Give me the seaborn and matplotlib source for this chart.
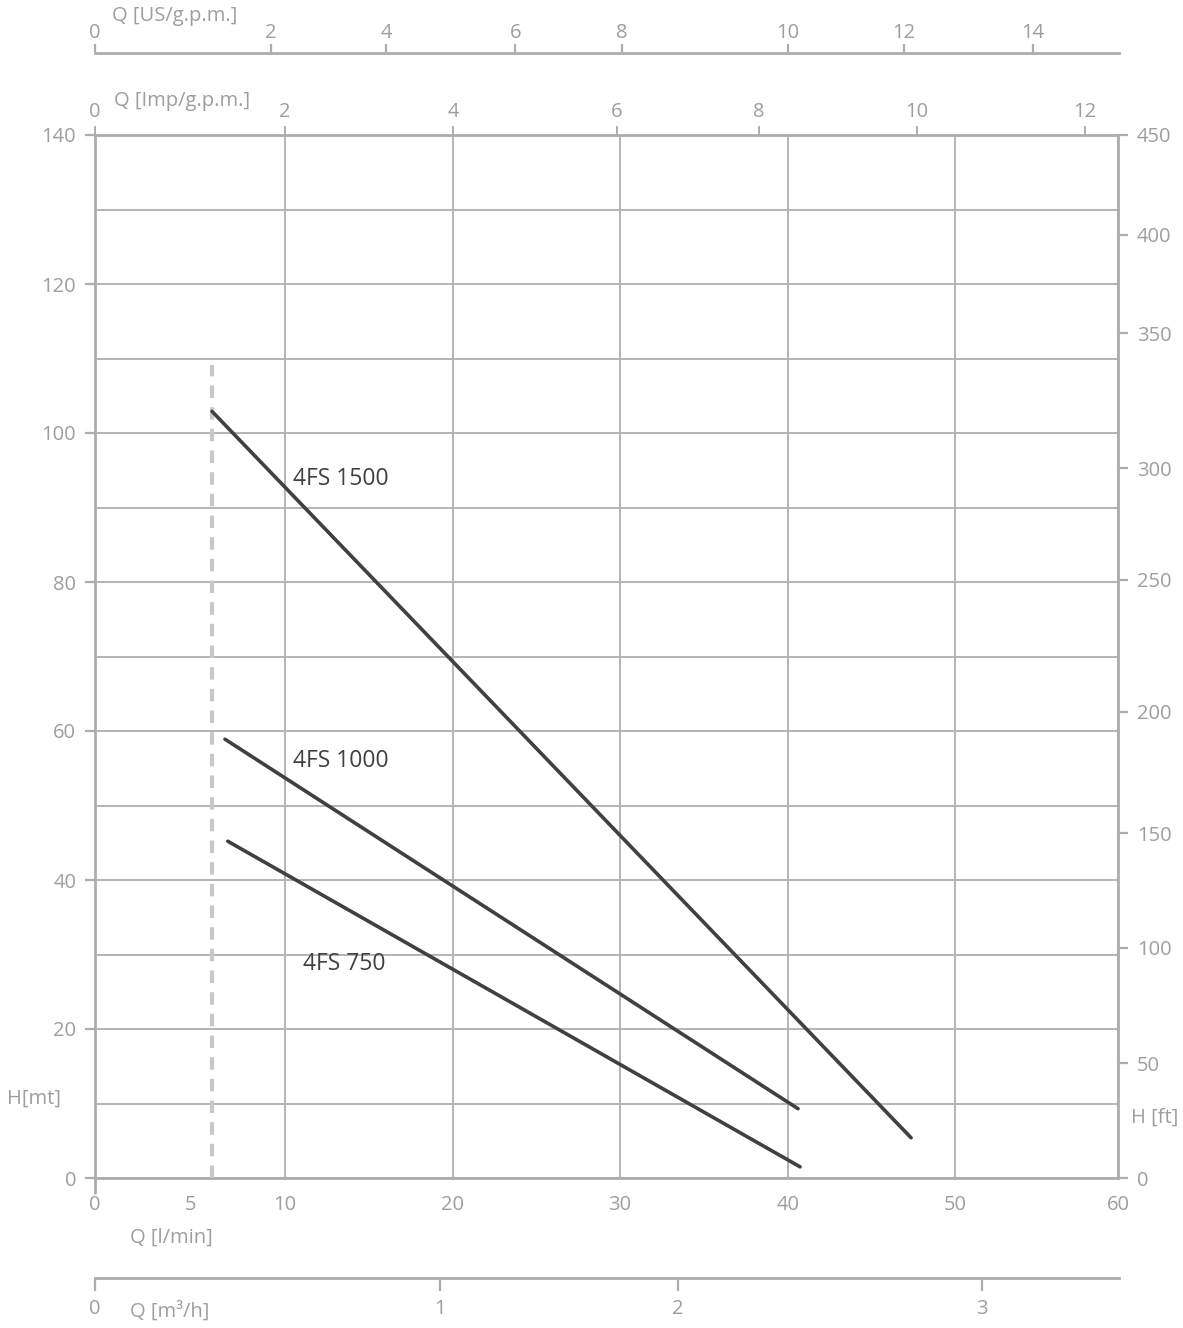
import numpy as np
import pandas as pd
import matplotlib
matplotlib.use("Agg")
import matplotlib.pyplot as plt
import seaborn as sns

# pump curves, Q in l/min, H in m
pumps = ["4FS 1500", "4FS 1000", "4FS 750"]
q_1500 = [6.16, 47.37]
h_1500 = [102.9, 5.4]
q_1000 = [6.84, 40.6]
h_1000 = [58.9, 9.3]
q_750 = [6.99, 40.72]
h_750 = [45.2, 1.5]

# minimum flow marker
q_min = 6.16
h_min_top = 109.1

label_q = [10.5, 10.5, 11.1]
label_h = [93.8, 56.0, 28.7]

# axis ticks (positions in l/min or m, labels in the other units)
lmin_ticks = [0, 10, 20, 30, 40, 50, 60]
imp_labels = ["0", "2", "4", "6", "8", "10", "12"]
imp_pos = [0, 10.0, 20.0, 29.82, 38.27, 47.72, 57.98]
us_labels = ["0", "2", "4", "6", "8", "10", "12", "14"]
us_pos = [0, 9.26, 16.01, 23.71, 30.06, 39.94, 46.89, 54.72]
m3_labels = ["0", "1", "2", "3"]
m3_pos = [0, 19.23, 33.39, 51.6]
ft_labels = ["0", "50", "100", "150", "200", "250", "300", "350", "400", "450"]
ft_pos = [0, 15.4, 30.9, 46.3, 62.6, 80.3, 95.3, 113.4, 126.6, 140]

# the printed Q scale is stretched between 0 and 10 l/min
knots_q = [0, 10, 20, 30, 40, 50, 60]
knots_px = [0, 190, 358, 525, 693, 860, 1023]


def fwd(x):
    return np.interp(x, knots_q, knots_px, left=-1e3, right=2e3)


def inv(p):
    return np.interp(p, knots_px, knots_q, left=-10, right=70)


GRID = "#b4b4b4"
SPINE = "#adadad"
TXT = "#9e9e9e"
DARK = "#404040"
FS = 14.5

sns.set_style("white")
plt.rcParams["font.family"] = ["Open Sans", "DejaVu Sans"]

W, H = 1183, 1328
fig = plt.figure(figsize=(W / 100, H / 100), dpi=100)


def rect(x0, y0, x1, y1):
    return [x0 / W, 1 - y1 / H, (x1 - x0) / W, (y1 - y0) / H]


ax = fig.add_axes(rect(95, 135, 1118, 1178))
ax.set_xscale("function", functions=(fwd, inv))
ax.set_xlim(0, 60)
ax.set_ylim(0, 140)

df = pd.DataFrame({
    "pump": [pumps[0]] * 2 + [pumps[1]] * 2 + [pumps[2]] * 2,
    "q": q_1500 + q_1000 + q_750,
    "h": h_1500 + h_1000 + h_750,
})
sns.lineplot(data=df, x="q", y="h", hue="pump", palette=[DARK] * 3,
             legend=False, lw=2.6, ax=ax, zorder=4)
ax.plot([q_min, q_min], [0, h_min_top], color="#c8c8c8", lw=3,
        ls=(0, (3, 2.2)), zorder=3)

for name, lq, lh in zip(pumps, label_q, label_h):
    ax.text(lq, lh, name, color=DARK, fontsize=16.5, va="center", ha="left")

# grid
ax.set_xticks(lmin_ticks, labels=[str(v) for v in lmin_ticks])
ax.set_xticks([5], labels=["5"], minor=True)
ax.set_yticks(range(0, 141, 20))
ax.set_yticks(range(0, 141, 10), minor=True)
ax.grid(True, which="major", axis="x", color=GRID, lw=1.4)
ax.grid(True, which="both", axis="y", color=GRID, lw=1.4)
ax.set_axisbelow(True)
ax.tick_params(axis="x", which="both", length=0, pad=12, labelsize=FS,
               labelcolor=TXT)
ax.tick_params(axis="y", which="major", left=True, length=7.5, width=1.6,
               color=SPINE, direction="out", pad=6, labelsize=FS,
               labelcolor=TXT)
ax.tick_params(axis="y", which="minor", length=0)
for s in ax.spines.values():
    s.set_color(SPINE)
    s.set_linewidth(2)
ax.set_xlabel("")
ax.set_ylabel("")
# small extension of the left spine below zero
ax.plot([0, 0], [0, -2.0], color=SPINE, lw=2, clip_on=False)

# right axis in feet
ax_r = ax.twinx()
ax_r.set_ylim(0, 140)
ax_r.set_yticks(ft_pos, labels=ft_labels)
ax_r.tick_params(axis="y", right=True, length=7.5, width=1.6, color=SPINE,
                 direction="out", pad=6, labelsize=FS, labelcolor=TXT)
for s in ax_r.spines.values():
    s.set_visible(False)

# top axis Imp g.p.m.
ax_t = ax.twiny()
ax_t.set_xscale("function", functions=(fwd, inv))
ax_t.set_xlim(0, 60)
ax_t.set_xticks(imp_pos, labels=imp_labels)
ax_t.tick_params(axis="x", top=True, length=6.5, width=1.4, color=SPINE,
                 direction="out", pad=3, labelsize=FS, labelcolor=TXT)
for s in ax_t.spines.values():
    s.set_visible(False)

# US g.p.m. axis at the very top
ax_us = fig.add_axes(rect(95, 53, 1119, 60))
ax_us.set_xscale("function", functions=(fwd, inv))
ax_us.set_xlim(0, 60)
ax_us.xaxis.tick_top()
ax_us.set_xticks(us_pos, labels=us_labels)
ax_us.set_yticks([])
ax_us.tick_params(axis="x", top=True, length=6.5, width=1.6, color=SPINE,
                  direction="out", pad=1, labelsize=FS, labelcolor=TXT)
for k, s in ax_us.spines.items():
    s.set_visible(k == "top")
    s.set_color(SPINE)
    s.set_linewidth(2)
ax_us.patch.set_alpha(0)

# m3/h axis at the bottom
ax_m3 = fig.add_axes(rect(95, 1271, 1119, 1278))
ax_m3.set_xscale("function", functions=(fwd, inv))
ax_m3.set_xlim(0, 60)
ax_m3.set_xticks(m3_pos, labels=m3_labels)
ax_m3.set_yticks([])
ax_m3.tick_params(axis="x", bottom=True, length=9, width=1.6, color=SPINE,
                  direction="out", pad=6, labelsize=FS, labelcolor=TXT)
for k, s in ax_m3.spines.items():
    s.set_visible(k == "bottom")
    s.set_color(SPINE)
    s.set_linewidth(2)
ax_m3.patch.set_alpha(0)


def ftext(x, y, s):
    fig.text(x / W, 1 - y / H, s, color=TXT, fontsize=FS, ha="left",
             va="center")


ftext(112, 16, "Q [US/g.p.m.]")
ftext(114, 101, "Q [Imp/g.p.m.]")
ftext(7, 1099, "H[mt]")
ftext(1131, 1118, "H [ft]")
ftext(130, 1238, "Q [l/min]")
ftext(130, 1312, "Q [m³/h]")

fig.savefig("out.png", dpi=100)
